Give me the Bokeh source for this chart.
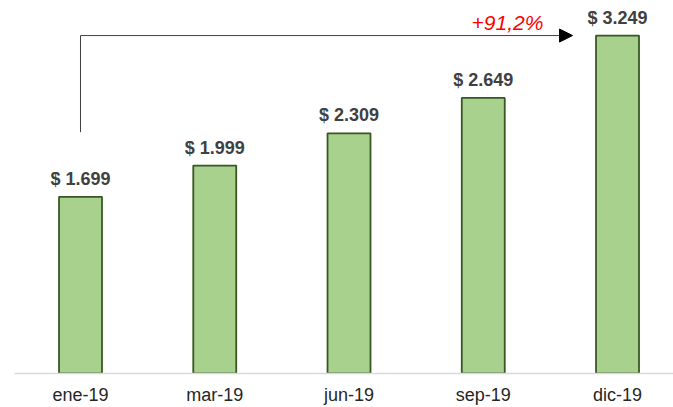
from bokeh.plotting import figure
from bokeh.models import Range1d, FixedTicker, ColumnDataSource, Arrow, NormalHead, Label
from bokeh.core.properties import value
from bokeh.embed import file_html
from bokeh.resources import INLINE

months = ["ene-19", "mar-19", "jun-19", "sep-19", "dic-19"]
prices = [1699, 1999, 2309, 2649, 3249]
labels = ["$ " + f"{v:,}".replace(",", ".") for v in prices]
growth = prices[-1] / prices[0] - 1
growth_label = "+" + f"{growth*100:.1f}".replace(".", ",") + "%"

xs = list(range(len(months)))
src = ColumnDataSource(dict(x=xs, top=prices, label=labels))

p = figure(width=673, height=407, output_backend="svg", toolbar_location=None,
           x_range=Range1d(-0.4916, 4.417), y_range=Range1d(0, 3586),
           min_border_left=14, min_border_right=0, min_border_top=0, min_border_bottom=33)
p.outline_line_color = None
p.xgrid.visible = False
p.ygrid.visible = False
p.yaxis.visible = False

p.vbar(x="x", top="top", width=0.32, bottom=0, source=src,
       fill_color="#a9d18e", line_color="#385723", line_width=1.8)
p.text(x="x", y="top", text="label", source=src, text_align="center",
       text_baseline="bottom", y_offset=-8, text_font=value("Liberation Sans"),
       text_font_style="bold", text_font_size="18px", text_color="#404040")

# growth arrow
p.segment(x0=[0], y0=[2320], x1=[0], y1=[prices[-1]], line_color="#404040", line_width=1)
p.add_layout(Arrow(x_start=0, y_start=prices[-1], x_end=3.665, y_end=prices[-1],
                   line_color="#404040", line_width=1,
                   end=NormalHead(size=13, fill_color="black", line_color="black")))
p.add_layout(Label(x=3.18, y=prices[-1], text=growth_label, text_align="center",
                   text_baseline="bottom", y_offset=2, text_color="#ff0000",
                   text_font="Liberation Sans", text_font_style="italic",
                   text_font_size="21px"))

ax = p.xaxis[0]
ax.ticker = FixedTicker(ticks=xs)
ax.major_label_overrides = {i: m for i, m in enumerate(months)}
ax.axis_line_color = "#d9d9d9"
ax.axis_line_width = 1.5
ax.major_tick_line_color = None
ax.minor_tick_line_color = None
ax.major_tick_out = 0
ax.major_tick_in = 0
ax.major_label_standoff = 11
ax.major_label_text_line_height = 0.7
ax.major_label_text_font = "Liberation Sans"
ax.major_label_text_font_size = "18px"
ax.major_label_text_color = "#262626"

open("out.html", "w").write(file_html(p, INLINE))
